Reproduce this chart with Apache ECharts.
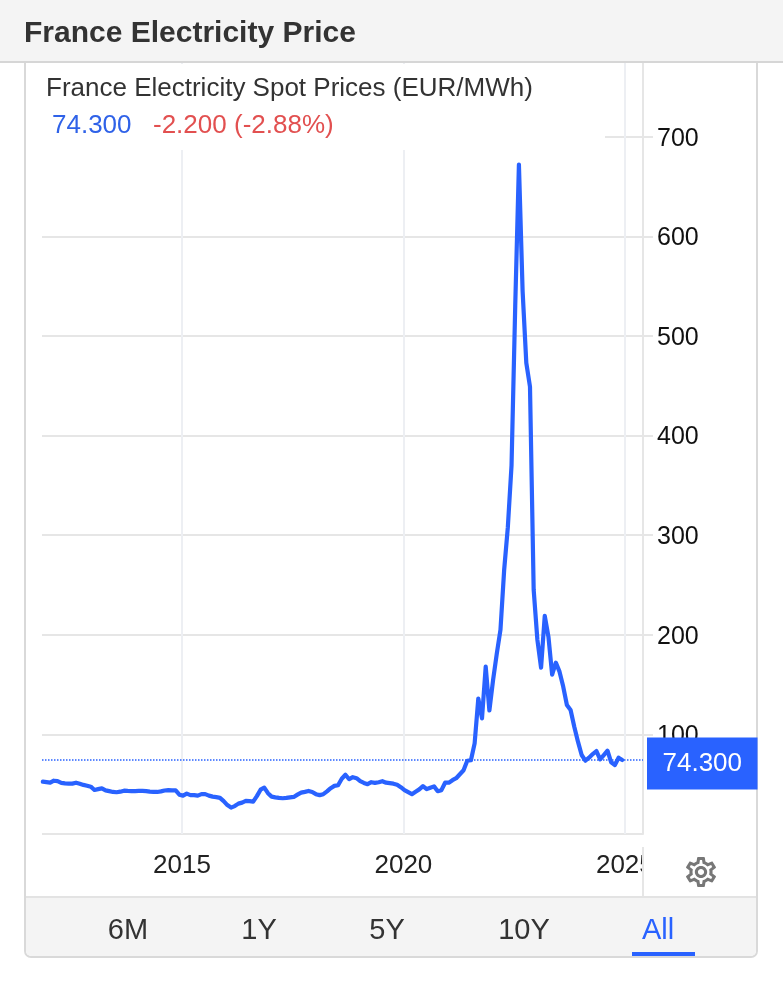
<!DOCTYPE html>
<html>
<head>
<meta charset="utf-8">
<title>France Electricity Price</title>
<script src="https://cdn.jsdelivr.net/npm/echarts@6/dist/echarts.min.js"></script>
<style>
  html, body { margin: 0; padding: 0; background: #fff; }
  #main { width: 783px; height: 1000px; }
</style>
</head>
<body>
<div id="main"></div>
<script>
// monthly spot price, Nov 2011 to Dec 2024
const prices = [
    52.5, 52,
    51.5, 53.5, 53, 51.3, 50.8, 50.6, 50.6, 51.5, 50.5, 49.3, 48.5, 47.5,
    44.2, 45, 45.8, 43.8, 43, 42.2, 41.9, 42.5, 43.5, 43.2, 43.1, 43.1,
    43.2, 43.2, 43, 42.5, 42.3, 42.2, 42.8, 43.7, 44, 43.8, 43.8, 39.5,
    38.5, 40.5, 39, 39, 38.5, 40, 40, 38.5, 37.5, 37, 36.3, 33,
    29, 26.5, 28, 30.5, 31.5, 33.2, 33, 32.5, 38, 44.5, 46.5, 41,
    37.5, 36.8, 36.2, 35.9, 36.2, 36.8, 37.2, 39.5, 41.5, 42.3, 43.2, 42.2,
    40, 39, 40, 42.8, 46, 48.3, 49, 55.5, 59.5, 55, 57, 56,
    53, 51.3, 50, 52, 51.3, 52, 53, 51.5, 51, 50.5, 49.5, 47,
    44, 42, 40, 42.5, 44.8, 48, 45, 46.5, 47.8, 43, 44, 51.5,
    51.5, 54, 56, 60, 64, 73.5, 74, 91, 136, 116, 168, 124,
    154.6, 181, 205, 265, 308, 370, 530, 672, 545, 473, 449, 245,
    195, 167, 219, 198, 160, 172, 163, 148, 129.5, 124.5, 107.7, 92.7,
    79.3, 73.6, 76.6, 80.3, 83.3, 75, 79.3, 83.6, 72, 69.3, 76.6, 74.3
];
const yearTicks = [2015, 2020, 2025];
const rangeLabels = ['6M', '1Y', '5Y', '10Y', 'All'];
const rangeCenters = [128, 259, 387, 524, 658];
const lastPrice = 74.3;

const blue = '#2962ff';
const fontName = '"Liberation Sans", Arial, sans-serif';
const gearPath = 'M19.43 12.98c.04-.32.07-.64.07-.98 0-.34-.03-.66-.07-.98l2.11-1.65c.19-.15.24-.42.12-.64l-2-3.46c-.09-.16-.26-.25-.44-.25-.06 0-.12.01-.17.03l-2.49 1c-.52-.4-1.08-.73-1.69-.98l-.38-2.65C14.46 2.18 14.25 2 14 2h-4c-.25 0-.46.18-.49.42l-.38 2.65c-.61.25-1.17.59-1.69.98l-2.49-1c-.06-.02-.12-.03-.18-.03-.17 0-.34.09-.43.25l-2 3.46c-.13.22-.07.49.12.64l2.11 1.65c-.04.32-.07.65-.07.98 0 .33.03.66.07.98l-2.11 1.65c-.19.15-.24.42-.12.64l2 3.46c.09.16.26.25.44.25.06 0 .12-.01.17-.03l2.49-1c.52.4 1.08.73 1.69.98l.38 2.65c.03.24.24.42.49.42h4c.25 0 .46-.18.49-.42l.38-2.65c.61-.25 1.17-.59 1.69-.98l2.49 1c.06.02.12.03.18.03.17 0 .34-.09.43-.25l2-3.46c.12-.22.07-.49-.12-.64l-2.11-1.65zm-1.98-1.71c.04.31.05.52.05.73 0 .21-.02.43-.05.73l-.14 1.13.89.7 1.08.84-.7 1.21-1.27-.51-1.04-.42-.9.68c-.43.32-.84.56-1.25.73l-1.06.43-.16 1.13-.2 1.35h-1.4l-.19-1.35-.16-1.13-1.06-.43c-.43-.18-.83-.41-1.23-.71l-.91-.7-1.06.43-1.27.51-.7-1.21 1.08-.84.89-.7-.14-1.13c-.03-.31-.05-.54-.05-.74s.02-.43.05-.73l.14-1.13-.89-.7-1.08-.84.7-1.21 1.27.51 1.04.42.9-.68c.43-.32.84-.56 1.25-.73l1.06-.43.16-1.13.2-1.35h1.39l.19 1.35.16 1.13 1.06.43c.43.18.83.41 1.23.71l.91.7 1.06-.43 1.27-.51.7 1.21-1.07.85-.89.7.14 1.13zM12 8c-2.21 0-4 1.79-4 4s1.79 4 4 4 4-1.79 4-4-1.79-4-4-4zm0 6c-1.1 0-2-.9-2-2s.9-2 2-2 2 .9 2 2-.9 2-2 2z';

// x is a decimal year, a third of the way into each month lines the kinks up best
const points = prices.map((p, i) => [2011 + (10 + i + 0.3) / 12, p]);

function label(text, x, y, size, color, extra) {
    return {
        type: 'text', z: 60, silent: true,
        style: Object.assign({
            text: text, x: x, y: y, fill: color,
            font: size + 'px ' + fontName,
            textVerticalAlign: 'middle'
        }, extra || {})
    };
}

function box(x, y, width, height, fill, z, r) {
    return { type: 'rect', z: z, silent: true, shape: { x, y, width, height, r: r || 0 }, style: { fill: fill } };
}

const chrome = [
    // panel border and white behind the legend
    { type: 'rect', z: 0, silent: true, shape: { x: 25, y: 50, width: 732, height: 907, r: 6 }, style: { fill: '#fff', stroke: '#d9d9d9', lineWidth: 2 } },
    box(42, 64, 563, 86, '#fff', 40),
    // header
    box(0, 0, 783, 61, '#f4f4f4', 50),
    box(0, 61, 783, 2, '#d6d6d6', 50),
    // footer
    { type: 'rect', z: 50, silent: true, shape: { x: 26, y: 897, width: 730, height: 59, r: [0, 0, 5, 5] }, style: { fill: '#f4f4f4' } },
    box(26, 896, 730, 2, '#e3e3e3', 50),
    // cuts the last year label off at the price scale
    box(644, 838, 40, 56, '#fff', 45),
    box(642, 847, 2, 49, '#e6e6e6', 46),
    label('France Electricity Price', 24, 33.5, 30, '#333', { font: 'bold 30px ' + fontName }),
    label('France Electricity Spot Prices (EUR/MWh)', 46, 88.5, 26, '#333'),
    label('74.300', 52, 125.5, 26, '#2f62e8'),
    label('-2.200', 153, 125.5, 26, '#e25050'),
    label('(-2.88%)', 234, 125.5, 26, '#e25050'),
    box(632, 952, 63, 4, blue, 60)
];
rangeLabels.forEach((t, i) => {
    chrome.push(label(t, rangeCenters[i], 931, 29, t === 'All' ? blue : '#333', { textAlign: 'center' }));
});

let myChart = echarts.init(document.getElementById('main'));
let option = {
    animation: false,
    backgroundColor: '#fff',
    textStyle: { fontFamily: fontName },
    grid: { left: 42, right: 140, top: 62, bottom: 166 },
    xAxis: {
        type: 'value',
        min: 2011.84,
        max: 2025.41,
        axisLine: { show: false },
        axisTick: { show: false, customValues: yearTicks },
        splitLine: { show: true, lineStyle: { color: '#edeff3', width: 2 } },
        axisLabel: {
            customValues: yearTicks,
            formatter: v => String(v),
            fontSize: 26, color: '#222', margin: 19, hideOverlap: false
        }
    },
    yAxis: {
        type: 'value',
        position: 'right',
        min: 0,
        max: 775,
        interval: 100,
        axisLine: { show: true, lineStyle: { color: '#e6e6e6', width: 2 } },
        axisTick: { show: true, length: 10, lineStyle: { color: '#e6e6e6', width: 2 } },
        splitLine: { show: true, lineStyle: { color: '#e6e6e6', width: 2 } },
        axisLabel: {
            fontSize: 25, color: '#111', margin: 14,
            // small line box hung from the tick puts the digits 2px under it
            verticalAlign: 'top', lineHeight: 4,
            showMinLabel: false, showMaxLabel: false
        }
    },
    series: [{
        type: 'line',
        data: points,
        showSymbol: false,
        smooth: false,
        z: 30,
        lineStyle: { color: blue, width: 4.2, cap: 'round', join: 'round' },
        markLine: {
            silent: true,
            symbol: 'none',
            z: 35,
            data: [{ yAxis: lastPrice }],
            lineStyle: { color: blue, type: 'dotted', width: 1.5 },
            label: {
                position: 'end',
                distance: 4,
                offset: [0, 3.5],
                formatter: v => v.value.toFixed(3),
                color: '#fff',
                fontSize: 26,
                backgroundColor: blue,
                padding: [13, 15.5, 13, 15.5]
            }
        },
        // settings gear, placed in pixels
        markPoint: {
            silent: true,
            z: 60,
            label: { show: false },
            itemStyle: { color: '#777' },
            data: [{ x: 701, y: 872, symbol: 'path://' + gearPath, symbolSize: 30 }]
        }
    }],
    graphic: chrome
};
myChart.setOption(option);
</script>
</body>
</html>
